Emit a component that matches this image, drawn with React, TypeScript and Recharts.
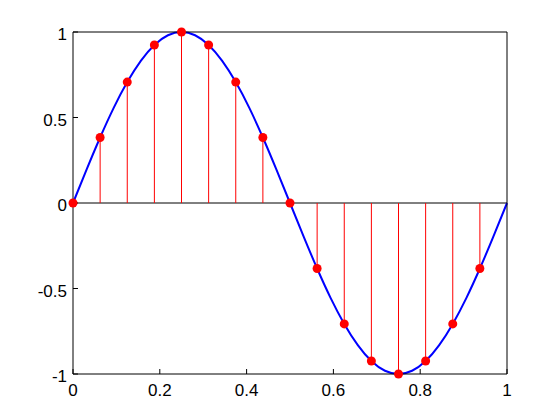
import { ComposedChart, Line, Scatter, XAxis, YAxis, ReferenceLine } from 'recharts';

// continuous curve, every 1/32
const curveX = [
  0, 0.03125, 0.0625, 0.09375, 0.125, 0.15625, 0.1875, 0.21875, 0.25, 0.28125, 0.3125,
  0.34375, 0.375, 0.40625, 0.4375, 0.46875, 0.5, 0.53125, 0.5625, 0.59375, 0.625,
  0.65625, 0.6875, 0.71875, 0.75, 0.78125, 0.8125, 0.84375, 0.875, 0.90625, 0.9375,
  0.96875, 1,
];
const curveY = [
  0, 0.195, 0.383, 0.556, 0.707, 0.831, 0.924, 0.981, 1, 0.981, 0.924, 0.831, 0.707,
  0.556, 0.383, 0.195, 0, -0.195, -0.383, -0.556, -0.707, -0.831, -0.924, -0.981, -1,
  -0.981, -0.924, -0.831, -0.707, -0.556, -0.383, -0.195, 0,
];

// sampled points (red stems)
const sampleX = [
  0, 0.0625, 0.125, 0.1875, 0.25, 0.3125, 0.375, 0.4375, 0.5, 0.5625, 0.625, 0.6875,
  0.75, 0.8125, 0.875, 0.9375,
];
const sampleY = [
  0, 0.383, 0.707, 0.924, 1, 0.924, 0.707, 0.383, 0, -0.383, -0.707, -0.924, -1,
  -0.924, -0.707, -0.383,
];

const xTicks = [0, 0.2, 0.4, 0.6, 0.8, 1];
const yTicks = [-1, -0.5, 0, 0.5, 1];

const curve = curveX.map((x, i) => ({ x, y: curveY[i] }));
const samples = sampleX.map((x, i) => ({ x, y: sampleY[i] }));

const font = { fontFamily: '"Liberation Sans", Arial, sans-serif', fontSize: 17, fill: '#000' };

const Dot = (props: any) => <circle cx={props.cx} cy={props.cy} r={4.5} fill="#ff0000" />;

export default function App() {
  return (
    <div style={{ position: 'absolute', left: 0, top: 0, background: '#fff' }}>
      <ComposedChart width={560} height={420} margin={{ top: 31, right: 52, bottom: 16, left: 33 }}>
        <XAxis
          type="number"
          dataKey="x"
          domain={[0, 1]}
          ticks={xTicks}
          height={30}
          stroke="#000"
          tickSize={-5}
          tickMargin={15}
          tick={font}
        />
        <XAxis
          xAxisId="t"
          type="number"
          dataKey="x"
          orientation="top"
          domain={[0, 1]}
          ticks={xTicks}
          height={1}
          stroke="#000"
          tickSize={-5}
          tickFormatter={() => ''}
        />
        <YAxis
          type="number"
          domain={[-1, 1]}
          ticks={yTicks}
          width={40}
          stroke="#000"
          tickSize={-5}
          tickMargin={11}
          tick={{ ...font, dy: 2 }}
        />
        <YAxis
          yAxisId="r"
          type="number"
          orientation="right"
          domain={[-1, 1]}
          ticks={yTicks}
          width={1}
          stroke="#000"
          tickSize={-5}
          tickFormatter={() => ''}
        />
        <ReferenceLine y={0} stroke="#000" strokeWidth={1} />
        {samples.map((s) => (
          <ReferenceLine
            key={s.x}
            segment={[{ x: s.x, y: 0 }, { x: s.x, y: s.y }]}
            stroke="#ff0000"
            strokeWidth={1}
          />
        ))}
        <Line
          data={curve}
          dataKey="y"
          type="natural"
          stroke="#0000ff"
          strokeWidth={2}
          dot={false}
          isAnimationActive={false}
        />
        <Scatter data={samples} dataKey="y" shape={Dot} isAnimationActive={false} />
      </ComposedChart>
    </div>
  );
}
